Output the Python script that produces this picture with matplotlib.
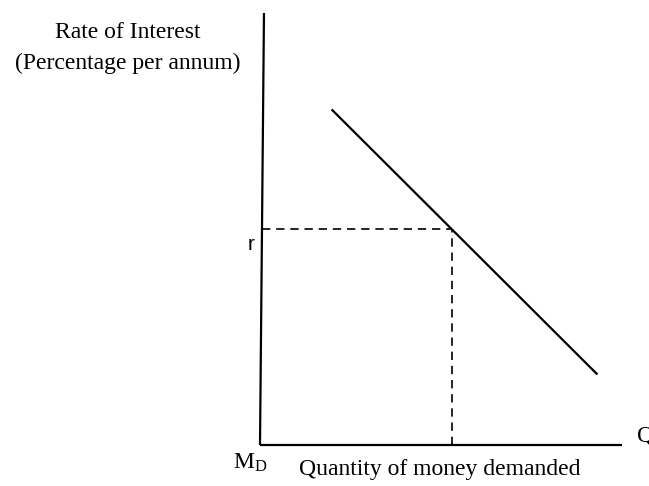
import matplotlib.pyplot as plt

plt.rcParams['font.family'] = ['Liberation Serif', 'DejaVu Serif']
plt.rcParams['mathtext.fontset'] = 'custom'
plt.rcParams['mathtext.rm'] = 'Liberation Serif'

# Money demand schedule (arbitrary units)
demand_q = [2.0, 9.3]
demand_r = [7.75, 1.65]
r_level = 5.0
q_level = 5.3
y_axis_top = [0.11, 10.0]
x_axis_end = 10.0

W, H = 649, 486
fig = plt.figure(figsize=(W / 100, H / 100), dpi=100)
# axes corner sits at pixel (260, 445), top at y=13, right end at x=622
ax = fig.add_axes([260 / W, (H - 445) / H, (622 - 260) / W, (445 - 13) / H])
ax.set_xlim(0, 10)
ax.set_ylim(0, 10)
ax.axis('off')

# axes
ax.plot([0, y_axis_top[0]], [0, y_axis_top[1]], color='black', lw=1.6,
        solid_capstyle='butt', clip_on=False)
ax.plot([0, x_axis_end], [0, 0], color='black', lw=1.6,
        solid_capstyle='butt', clip_on=False)

# demand curve
ax.plot(demand_q, demand_r, color='black', lw=1.6, clip_on=False)

# dashed guides
ax.plot([0.05, q_level], [r_level, r_level], color='black', lw=1.2,
        linestyle=(0, (5, 3.5)), clip_on=False)
ax.plot([q_level, q_level], [0, r_level], color='black', lw=1.2,
        linestyle=(0, (5, 3.5)), clip_on=False)

# labels
fig.text(128 / W, 1 - 33 / H, 'Rate of Interest', ha='center', va='center',
         fontsize=17)
fig.text(128 / W, 1 - 63 / H, '(Percentage per annum)', ha='center',
         va='center', fontsize=17)
fig.text(251 / W, 1 - 244 / H, 'r', ha='center', va='center', fontsize=15,
         family='Liberation Sans')
fig.text(233 / W, 1 - 463 / H, r'$\mathregular{M_D}$', ha='left',
         va='center', fontsize=17)
fig.text(440 / W, 1 - 469 / H, 'Quantity of money demanded', ha='center',
         va='center', fontsize=17)
fig.text(637 / W, 1 - 436 / H, 'Q', ha='left', va='center', fontsize=17)

fig.savefig('out.png', dpi=100)
